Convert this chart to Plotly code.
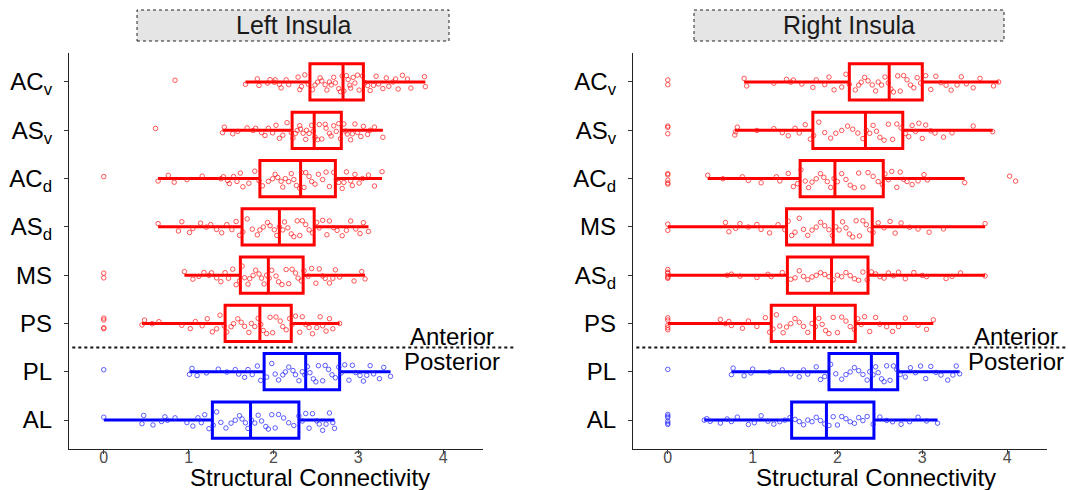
import plotly.graph_objects as go

# ---------------- data ----------------
left_order = ["ACv", "ASv", "ACd", "ASd", "MS", "PS", "PL", "AL"]
right_order = ["ACv", "ASv", "ACd", "MS", "ASd", "PS", "PL", "AL"]
tick_labels = {
    "ACv": "AC<sub>v</sub>", "ASv": "AS<sub>v</sub>", "ACd": "AC<sub>d</sub>",
    "ASd": "AS<sub>d</sub>", "MS": "MS", "PS": "PS", "PL": "PL", "AL": "AL",
}
anterior = ["ACv", "ASv", "ACd", "ASd", "MS", "PS"]
posterior = ["PL", "AL"]

# box statistics: lower whisker, q1, median, q3, upper whisker
left_stats = {
    "ACv": [1.67, 2.43, 2.82, 3.06, 3.79],
    "ASv": [1.40, 2.22, 2.48, 2.80, 3.29],
    "ACd": [0.64, 1.84, 2.32, 2.73, 3.28],
    "ASd": [0.64, 1.63, 2.07, 2.48, 3.12],
    "MS":  [0.95, 1.61, 1.94, 2.35, 3.08],
    "PS":  [0.45, 1.43, 1.84, 2.21, 2.78],
    "PL":  [1.01, 1.89, 2.38, 2.78, 3.38],
    "AL":  [0.00, 1.28, 1.73, 2.30, 2.72],
}
right_stats = {
    "ACv": [0.90, 2.14, 2.61, 3.00, 3.90],
    "ASv": [0.79, 1.71, 2.33, 2.77, 3.83],
    "ACd": [0.47, 1.56, 1.97, 2.54, 3.50],
    "MS":  [0.00, 1.40, 1.95, 2.41, 3.74],
    "ASd": [0.00, 1.41, 1.93, 2.36, 3.74],
    "PS":  [0.00, 1.22, 1.73, 2.21, 3.13],
    "PL":  [0.75, 1.90, 2.40, 2.71, 3.44],
    "AL":  [0.43, 1.46, 1.87, 2.43, 3.18],
}

# individual subject values (read from the jittered points)
left_points = {
    "ACv": [0.84, 1.67, 1.81, 1.83, 1.93, 1.96, 2.01, 2.02, 2.07, 2.09, 2.15, 2.18, 2.29, 2.31,
            2.33, 2.37, 2.41, 2.46, 2.49, 2.52, 2.55, 2.57, 2.61, 2.63, 2.66, 2.68, 2.71, 2.73,
            2.77, 2.79, 2.81, 2.83, 2.86, 2.88, 2.90, 2.91, 2.94, 2.96, 2.99, 3.01, 3.05, 3.08,
            3.11, 3.14, 3.18, 3.21, 3.24, 3.29, 3.33, 3.36, 3.41, 3.44, 3.47, 3.52, 3.58, 3.62,
            3.78, 3.79],
    "ASv": [0.61, 1.40, 1.42, 1.52, 1.58, 1.69, 1.76, 1.79, 1.86, 1.90, 1.94, 1.99, 2.03, 2.07,
            2.11, 2.16, 2.21, 2.23, 2.26, 2.28, 2.31, 2.32, 2.35, 2.38, 2.39, 2.42, 2.45, 2.47,
            2.49, 2.52, 2.54, 2.57, 2.61, 2.62, 2.66, 2.68, 2.71, 2.74, 2.77, 2.79, 2.83, 2.85,
            2.87, 2.91, 2.93, 2.96, 2.99, 3.03, 3.06, 3.11, 3.14, 3.19, 3.29],
    "ACd": [0.00, 0.64, 0.76, 0.83, 0.98, 1.16, 1.38, 1.41, 1.46, 1.48, 1.53, 1.57, 1.61, 1.64,
            1.71, 1.78, 1.83, 1.87, 1.94, 1.99, 2.02, 2.05, 2.09, 2.11, 2.14, 2.18, 2.21, 2.24,
            2.27, 2.31, 2.33, 2.36, 2.38, 2.42, 2.45, 2.49, 2.53, 2.58, 2.62, 2.66, 2.71, 2.74,
            2.77, 2.81, 2.83, 2.86, 2.91, 2.93, 2.96, 3.01, 3.05, 3.12, 3.19, 3.28],
    "ASd": [0.64, 0.88, 0.92, 1.01, 1.05, 1.14, 1.21, 1.26, 1.33, 1.39, 1.45, 1.51, 1.56, 1.60,
            1.64, 1.69, 1.75, 1.81, 1.84, 1.88, 1.93, 1.96, 2.01, 2.04, 2.07, 2.11, 2.13, 2.17,
            2.21, 2.24, 2.28, 2.31, 2.34, 2.38, 2.42, 2.46, 2.51, 2.54, 2.58, 2.63, 2.66, 2.71,
            2.75, 2.81, 2.86, 2.91, 2.97, 3.02, 3.06, 3.12],
    "MS":  [0.00, 0.00, 0.95, 1.05, 1.12, 1.18, 1.24, 1.27, 1.33, 1.38, 1.43, 1.47, 1.52, 1.56,
            1.60, 1.63, 1.66, 1.70, 1.72, 1.76, 1.79, 1.83, 1.86, 1.89, 1.92, 1.95, 1.98, 2.03,
            2.06, 2.10, 2.15, 2.18, 2.22, 2.26, 2.29, 2.33, 2.36, 2.41, 2.45, 2.50, 2.54, 2.58,
            2.61, 2.66, 2.70, 2.73, 2.78, 2.95, 3.04, 3.08],
    "PS":  [0.00, 0.00, 0.00, 0.00, 0.45, 0.48, 0.57, 0.65, 0.92, 1.02, 1.08, 1.16, 1.22, 1.28,
            1.33, 1.37, 1.42, 1.45, 1.50, 1.53, 1.58, 1.62, 1.66, 1.71, 1.74, 1.78, 1.82, 1.85,
            1.88, 1.92, 1.96, 1.99, 2.03, 2.08, 2.11, 2.15, 2.19, 2.22, 2.26, 2.31, 2.34, 2.38,
            2.42, 2.46, 2.51, 2.55, 2.58, 2.62, 2.66, 2.70, 2.78],
    "PL":  [0.00, 1.01, 1.04, 1.10, 1.21, 1.35, 1.45, 1.55, 1.59, 1.66, 1.70, 1.75, 1.81, 1.85,
            1.92, 1.98, 2.02, 2.06, 2.11, 2.14, 2.18, 2.23, 2.26, 2.30, 2.34, 2.37, 2.40, 2.43,
            2.47, 2.50, 2.53, 2.58, 2.61, 2.65, 2.69, 2.73, 2.77, 2.80, 2.84, 2.89, 2.93, 2.97,
            3.02, 3.06, 3.10, 3.14, 3.18, 3.25, 3.30, 3.38],
    "AL":  [0.00, 0.45, 0.47, 0.58, 0.68, 0.72, 0.75, 0.84, 0.98, 1.05, 1.11, 1.15, 1.19, 1.24,
            1.29, 1.33, 1.38, 1.44, 1.50, 1.55, 1.60, 1.63, 1.67, 1.70, 1.74, 1.78, 1.82, 1.86,
            1.91, 1.94, 1.98, 2.02, 2.06, 2.12, 2.18, 2.24, 2.30, 2.34, 2.38, 2.42, 2.46, 2.51,
            2.54, 2.58, 2.62, 2.66, 2.70, 2.72],
}
right_points = {
    "ACv": [0.00, 0.00, 0.90, 0.93, 1.25, 1.40, 1.45, 1.48, 1.58, 1.71, 1.75, 1.85, 1.90, 1.96,
            2.05, 2.10, 2.14, 2.21, 2.25, 2.28, 2.32, 2.36, 2.41, 2.45, 2.48, 2.52, 2.56, 2.60,
            2.63, 2.66, 2.71, 2.74, 2.78, 2.82, 2.86, 2.90, 2.94, 2.98, 3.04, 3.10, 3.16, 3.22,
            3.28, 3.34, 3.41, 3.46, 3.52, 3.60, 3.68, 3.84, 3.90],
    "ASv": [0.00, 0.00, 0.00, 0.79, 0.80, 0.82, 1.05, 1.25, 1.35, 1.42, 1.50, 1.55, 1.62, 1.68,
            1.72, 1.78, 1.85, 1.92, 1.98, 2.05, 2.12, 2.18, 2.24, 2.30, 2.34, 2.38, 2.42, 2.46,
            2.50, 2.55, 2.60, 2.65, 2.70, 2.75, 2.80, 2.84, 2.88, 2.92, 2.96, 3.00, 3.04, 3.10,
            3.15, 3.25, 3.35, 3.60, 3.83],
    "ACd": [0.00, 0.00, 0.00, 0.00, 0.00, 0.47, 0.65, 0.88, 0.95, 1.10, 1.28, 1.32, 1.42, 1.48,
            1.53, 1.57, 1.62, 1.66, 1.70, 1.75, 1.80, 1.84, 1.88, 1.92, 1.96, 2.00, 2.05, 2.10,
            2.15, 2.20, 2.25, 2.30, 2.36, 2.42, 2.48, 2.53, 2.56, 2.60, 2.64, 2.70, 2.74, 2.78,
            2.82, 2.88, 2.95, 3.02, 3.06, 3.50, 4.03, 4.10],
    "MS":  [0.00, 0.00, 0.68, 0.72, 0.80, 0.85, 0.95, 1.05, 1.10, 1.20, 1.30, 1.38, 1.42, 1.46,
            1.50, 1.55, 1.60, 1.65, 1.70, 1.75, 1.80, 1.85, 1.90, 1.94, 1.98, 2.02, 2.06, 2.10,
            2.14, 2.18, 2.22, 2.26, 2.30, 2.34, 2.38, 2.42, 2.48, 2.55, 2.62, 2.68, 2.75, 2.85,
            2.95, 3.08, 3.25, 3.74],
    "ASd": [0.00, 0.00, 0.00, 0.00, 0.00, 0.00, 0.70, 0.75, 0.85, 1.05, 1.18, 1.22, 1.35, 1.45,
            1.50, 1.55, 1.60, 1.65, 1.70, 1.75, 1.80, 1.85, 1.90, 1.95, 2.00, 2.05, 2.10, 2.15,
            2.20, 2.25, 2.30, 2.35, 2.40, 2.45, 2.50, 2.55, 2.60, 2.66, 2.72, 2.80, 2.90, 3.00,
            3.05, 3.28, 3.35, 3.45, 3.74],
    "PS":  [0.00, 0.00, 0.00, 0.00, 0.00, 0.62, 0.68, 0.72, 0.75, 0.88, 0.95, 1.05, 1.15, 1.20,
            1.24, 1.28, 1.32, 1.36, 1.40, 1.45, 1.50, 1.55, 1.60, 1.65, 1.70, 1.74, 1.78, 1.82,
            1.86, 1.90, 1.95, 2.00, 2.05, 2.10, 2.15, 2.20, 2.24, 2.28, 2.32, 2.38, 2.45, 2.50,
            2.58, 2.65, 2.72, 2.80, 2.95, 3.05, 3.13],
    "PL":  [0.00, 0.75, 0.77, 0.90, 0.98, 1.00, 1.20, 1.35, 1.45, 1.55, 1.60, 1.65, 1.75, 1.80,
            1.85, 1.92, 1.98, 2.05, 2.10, 2.15, 2.20, 2.25, 2.30, 2.35, 2.38, 2.42, 2.45, 2.48,
            2.52, 2.55, 2.58, 2.62, 2.66, 2.70, 2.74, 2.80, 2.86, 2.92, 2.98, 3.04, 3.10, 3.16,
            3.22, 3.30, 3.36, 3.40, 3.44],
    "AL":  [0.00, 0.00, 0.00, 0.00, 0.00, 0.00, 0.43, 0.46, 0.50, 0.62, 0.70, 0.75, 0.82, 0.95,
            1.02, 1.10, 1.18, 1.25, 1.32, 1.38, 1.44, 1.50, 1.55, 1.60, 1.65, 1.70, 1.75, 1.80,
            1.85, 1.90, 1.95, 2.00, 2.05, 2.10, 2.15, 2.20, 2.25, 2.30, 2.35, 2.42, 2.50, 2.58,
            2.65, 2.75, 2.85, 2.95, 3.05, 3.18],
}

x_ticks = [0, 1, 2, 3, 4]
panel_titles = ["Left Insula", "Right Insula"]
x_title = "Structural Connectivity"
region_labels = ["Anterior", "Posterior"]

# ---------------- styling ----------------
FONT = "Liberation Sans, Arial, Helvetica, sans-serif"
BOX_COL = {"ant": "#FF0000", "post": "#0000FF"}
PT_COL = {"ant": "rgba(255,30,30,0.75)", "post": "rgba(40,40,255,0.75)"}

W, H = 1068, 490
fig = go.Figure()

panels = [
    dict(order=left_order, stats=left_stats, pts=left_points, xa="x", ya="y"),
    dict(order=right_order, stats=right_stats, pts=right_points, xa="x2", ya="y2"),
]

for p in panels:
    for cat in p["order"]:
        grp = "ant" if cat in anterior else "post"
        lw, q1, med, q3, uw = p["stats"][cat]
        fig.add_trace(go.Box(
            y=[cat], q1=[q1], median=[med], q3=[q3], lowerfence=[lw], upperfence=[uw],
            orientation="h", width=0.75, whiskerwidth=0, boxpoints=False,
            line=dict(color=BOX_COL[grp], width=3), fillcolor="rgba(0,0,0,0)",
            xaxis=p["xa"], yaxis=p["ya"], showlegend=False, hoverinfo="skip",
        ))
    for cat in p["order"]:
        grp = "ant" if cat in anterior else "post"
        vals = p["pts"][cat]
        fig.add_trace(go.Box(
            x=vals, y=[cat] * len(vals), orientation="h", width=0.75,
            boxpoints="all", jitter=0.6, pointpos=0,
            marker=dict(symbol="circle-open", size=4.5, color=PT_COL[grp],
                        line=dict(width=1, color=PT_COL[grp])),
            line=dict(width=0, color="rgba(0,0,0,0)"), fillcolor="rgba(0,0,0,0)",
            xaxis=p["xa"], yaxis=p["ya"], showlegend=False, hoverinfo="skip",
        ))

xdom = [[69 / W, 483 / W], [633 / W, 1047 / W]]
ydom = [1 - 449 / H, 1 - 53 / H]
xrange_ = [-0.41, 4.47]
yrange_ = [-0.6, 7.6]

axis_common_x = dict(
    range=xrange_, tickvals=x_ticks, showgrid=False, zeroline=False,
    showline=True, linecolor="#222", linewidth=1.3, ticks="outside", ticklen=4,
    tickcolor="#333", tickwidth=1,
    tickfont=dict(family=FONT, size=16, color="#4d4d4d"),
    ticklabelstandoff=-10,
)
axis_common_y = dict(
    type="category", range=yrange_, showgrid=False, zeroline=False,
    showline=True, linecolor="#222", linewidth=1.3, ticks="outside", ticklen=4,
    tickcolor="#333", tickwidth=1, tickfont=dict(family=FONT, size=24, color="black"),
    ticklabelstandoff=7,
)

fig.update_layout(
    width=W, height=H, autosize=False, margin=dict(l=0, r=0, t=0, b=0),
    paper_bgcolor="white", plot_bgcolor="white", boxmode="overlay", showlegend=False,
    xaxis=dict(domain=xdom[0], anchor="y", **axis_common_x),
    xaxis2=dict(domain=xdom[1], anchor="y2", **axis_common_x),
    yaxis=dict(domain=ydom, anchor="x",
               categoryarray=left_order[::-1], categoryorder="array",
               tickvals=left_order, ticktext=[tick_labels[c] for c in left_order],
               **axis_common_y),
    yaxis2=dict(domain=ydom, anchor="x2",
                categoryarray=right_order[::-1], categoryorder="array",
                tickvals=right_order, ticktext=[tick_labels[c] for c in right_order],
                **axis_common_y),
)

shapes = []
annotations = []
strip_x = [[137 / W, 449 / W], [694 / W, 1004 / W]]
title_x = [310 / W, 876 / W]
for i, (xa, ya) in enumerate([("x", "y"), ("x2", "y2")]):
    # panel strip
    shapes.append(dict(type="rect", xref="paper", yref="paper",
                       x0=strip_x[i][0], x1=strip_x[i][1], y0=1 - 41 / H, y1=1 - 10 / H,
                       fillcolor="#e5e5e5", line=dict(color="#222", width=1, dash="dot")))
    annotations.append(dict(text=panel_titles[i], xref="paper", yref="paper",
                            x=sum(strip_x[i]) / 2, y=1 - 25.5 / H, showarrow=False,
                            font=dict(family=FONT, size=25, color="#1a1a1a"),
                            xanchor="center", yanchor="middle"))
    # axis title
    annotations.append(dict(text=x_title, xref="paper", yref="paper",
                            x=title_x[i], y=1 - 477 / H, showarrow=False,
                            font=dict(family=FONT, size=24, color="black"),
                            xanchor="center", yanchor="middle"))
    # anterior / posterior divider
    shapes.append(dict(type="line", xref=f"{xa} domain", yref=f"{ya} domain",
                       x0=0.008, x1=1.08, y0=2.1 / 8.2, y1=2.1 / 8.2,
                       line=dict(color="#111", width=2, dash="dot")))
    annotations.append(dict(text=region_labels[0], xref=xa, yref=ya, x=4.1, y=1.74,
                            showarrow=False, font=dict(family=FONT, size=24, color="black"),
                            xanchor="center", yanchor="middle"))
    annotations.append(dict(text=region_labels[1], xref=xa, yref=ya, x=4.1, y=1.21,
                            showarrow=False, font=dict(family=FONT, size=24, color="black"),
                            xanchor="center", yanchor="middle"))

fig.update_layout(shapes=shapes, annotations=annotations)
fig.write_html(
    "out.html",
    config={"displayModeBar": False},
    post_script="document.body.style.margin='0';document.body.style.overflow='hidden';",
)
